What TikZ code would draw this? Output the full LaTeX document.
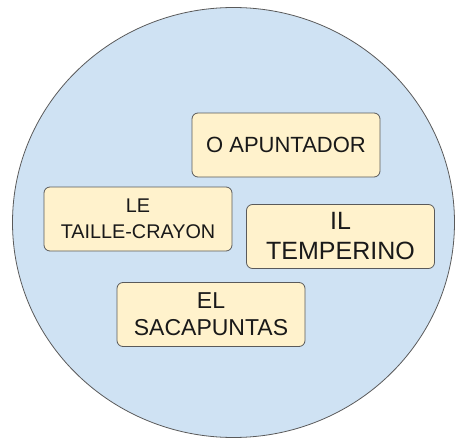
\documentclass[tikz,border=0pt]{standalone}
\usepackage{fontspec}
\setmainfont{Liberation Sans}
\usetikzlibrary{positioning}
\definecolor{plate}{RGB}{207,226,243}
\definecolor{cream}{RGB}{255,242,204}
\definecolor{rim}{RGB}{90,90,90}
\tikzstyle{word} = [rectangle, rounded corners=6pt, minimum width=188pt, minimum height=64pt, align=center, text centered, draw=rim, fill=cream, line width=0.8pt, text=black!90]

\begin{document}
\begin{tikzpicture}[x=1pt, y=-1pt]
	\useasboundingbox (0,0) rectangle (456,439);
	\draw [fill=plate, draw=rim, line width=0.8pt] (233.5,222.5) ellipse [x radius=221, y radius=215];
	\node (pt) [word, font=\fontsize{22}{26}\selectfont] at (286,145) {O APUNTADOR};
	\node (fr) [word, font=\fontsize{19.8}{26}\selectfont] at (138,219) {LE\\TAILLE-CRAYON};
	\node (it) [word, font=\fontsize{25}{30}\selectfont] at (340.5,236.5) {IL\\TEMPERINO};
	\node (es) [word, font=\fontsize{23}{27}\selectfont] at (211,314.5) {EL\\SACAPUNTAS};
\end{tikzpicture}
\end{document}
